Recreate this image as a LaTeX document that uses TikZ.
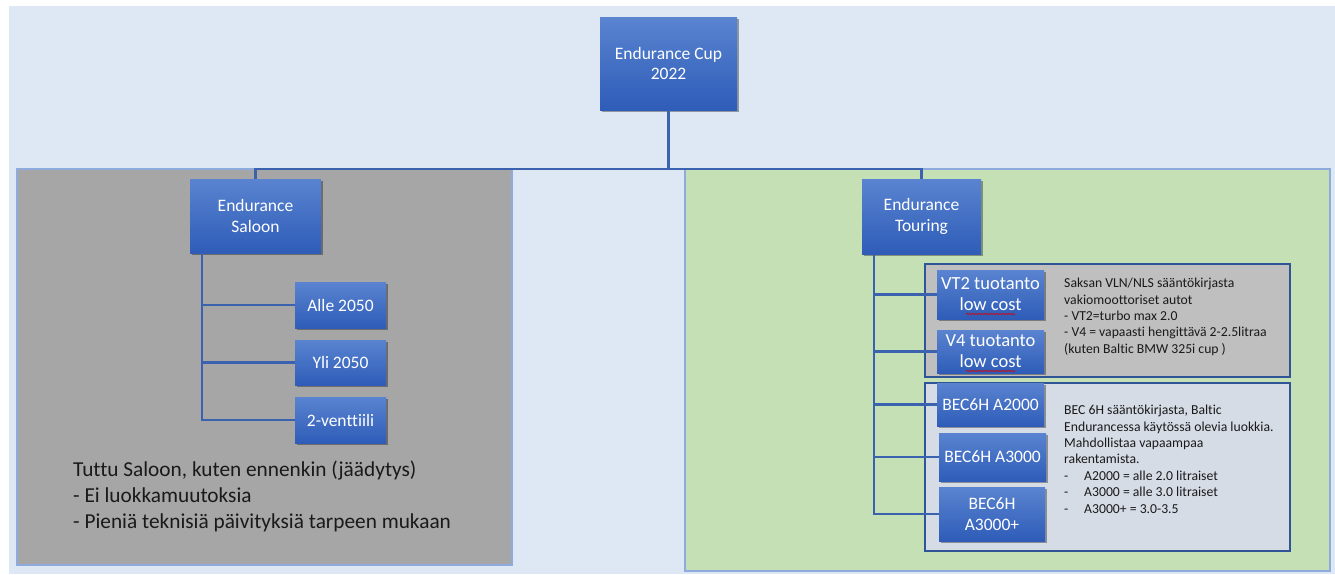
\documentclass[tikz,border=0pt]{standalone}
\usepackage{fontspec}
\setmainfont[Ligatures={NoCommon}]{Carlito}
\usetikzlibrary{shadows,decorations.pathmorphing}
\definecolor{bgblue}{HTML}{DEE8F4}
\definecolor{panelgray}{HTML}{A6A6A6}
\definecolor{panelgreen}{HTML}{C5E0B4}
\definecolor{panelborder}{HTML}{8FAADC}
\definecolor{boxtop}{HTML}{5A84D0}
\definecolor{boxbot}{HTML}{2E5CB8}
\definecolor{conn}{HTML}{3B62AE}
\definecolor{darkframe}{HTML}{2F5597}
\definecolor{lightgray}{HTML}{BFBFBF}
\definecolor{paleblue}{HTML}{D6DCE5}
\definecolor{notetext}{HTML}{1A1A1A}
\begin{document}
\begin{tikzpicture}[x=1pt,y=-1pt,
  orgbox/.style={rectangle, top color=boxtop, bottom color=boxbot, draw=none,
    text=white, align=center, font=\fontsize{17.5}{20.5}\selectfont, inner sep=1pt,
    drop shadow={shadow xshift=2pt, shadow yshift=-2pt, opacity=0.35, fill=black}},
  connector/.style={draw=conn, line width=2.2pt},
  panel/.style={draw=panelborder, line width=2pt},
  frame/.style={draw=darkframe, line width=2.4pt},
  note/.style={align=left, inner sep=0pt, anchor=north west, text=notetext},
  squiggle/.style={draw=red!85!black, line width=0.6pt, decorate,
    decoration={snake, amplitude=0.8pt, segment length=3pt}}
]
\useasboundingbox (0,0) rectangle (1335,574);
\fill[white] (0,0) rectangle (1335,574);
\fill[bgblue] (9,6) rectangle (1335,574);

% panels
\path[panel, fill=panelgray] (17,169) rectangle (512,565);
\path[panel, fill=panelgreen] (685,169) rectangle (1330,571);
\path[frame, fill=lightgray] (925,264) rectangle (1290,377);
\path[frame, fill=paleblue] (925,383) rectangle (1290,551);

% nodes
\node[orgbox, minimum width=137pt, minimum height=93pt] (top) at (668.5,63.5) {Endurance Cup\\2022};
\node[orgbox, minimum width=131pt, minimum height=74pt] (sal) at (255.5,216) {Endurance\\Saloon};
\node[orgbox, minimum width=119pt, minimum height=75pt] (tour) at (921.5,216.5) {Endurance\\Touring};

\node[orgbox, minimum width=91pt, minimum height=46pt] (alle) at (340.5,305) {Alle 2050};
\node[orgbox, minimum width=91pt, minimum height=45pt] (yli) at (340.5,362.5) {Yli 2050};
\node[orgbox, minimum width=91pt, minimum height=46pt] (vent) at (340.5,420) {2-venttiili};

\node[orgbox, minimum width=107pt, minimum height=49pt, font=\fontsize{18.5}{21}\selectfont] (vt2) at (990.5,294.5) {VT2 tuotanto\\low cost};
\node[orgbox, minimum width=107pt, minimum height=43pt, font=\fontsize{18.5}{21}\selectfont] (v4) at (990.5,351.5) {V4 tuotanto\\low cost};
\node[orgbox, minimum width=107pt, minimum height=43pt] (a2) at (990.5,404.5) {BEC6H A2000};
\node[orgbox, minimum width=107pt, minimum height=48pt] (a3) at (992.5,457) {BEC6H A3000};
\node[orgbox, minimum width=106pt, minimum height=54pt] (a3p) at (992,514) {BEC6H\\A3000+};

% spellcheck squiggles under "low cost"
\draw[squiggle] (966,314) -- (1015,314);
\draw[squiggle] (966,371) -- (1015,371);

% connectors
\coordinate (bus) at (668.5,169);
\draw[connector] (top.south) -- (bus);
\draw[connector] (sal.north) |- (bus) -| (tour.north);

\coordinate (sl) at (202,253);
\draw[connector] (sl) |- (alle.west);
\draw[connector] (sl) |- (yli.west);
\draw[connector] (sl) |- (vent.west);

\coordinate (tl) at (874,254);
\draw[connector] (tl) |- (vt2.west);
\draw[connector] (tl) |- (v4.west);
\draw[connector] (tl) |- (a2.west);
\draw[connector] (tl) |- (a3.west);
\draw[connector] (tl) |- (a3p.west);

% notes
\node[note, font=\fontsize{21.3}{26}\selectfont] (saltext) at (73,461)
  {Tuttu Saloon, kuten ennenkin (jäädytys)\\- Ei luokkamuutoksia\\- Pieniä teknisiä päivityksiä tarpeen mukaan};

\node[note, font=\fontsize{13.7}{16.4}\selectfont] (vtext) at (1064,278)
  {Saksan VLN/NLS sääntökirjasta\\vakiomoottoriset autot\\- VT2=turbo max 2.0\\- V4 = vapaasti hengittävä 2-2.5litraa\\(kuten Baltic BMW 325i cup )};

\node[note, font=\fontsize{13.7}{16.4}\selectfont] (btext) at (1064,405)
  {BEC 6H sääntökirjasta, Baltic\\Endurancessa käytössä olevia luokkia.\\Mahdollistaa vapaampaa\\rakentamista.\\
   \makebox[20pt][l]{-}A2000 = alle 2.0 litraiset\\
   \makebox[20pt][l]{-}A3000 = alle 3.0 litraiset\\
   \makebox[20pt][l]{-}A3000+ = 3.0-3.5};
\end{tikzpicture}
\end{document}
